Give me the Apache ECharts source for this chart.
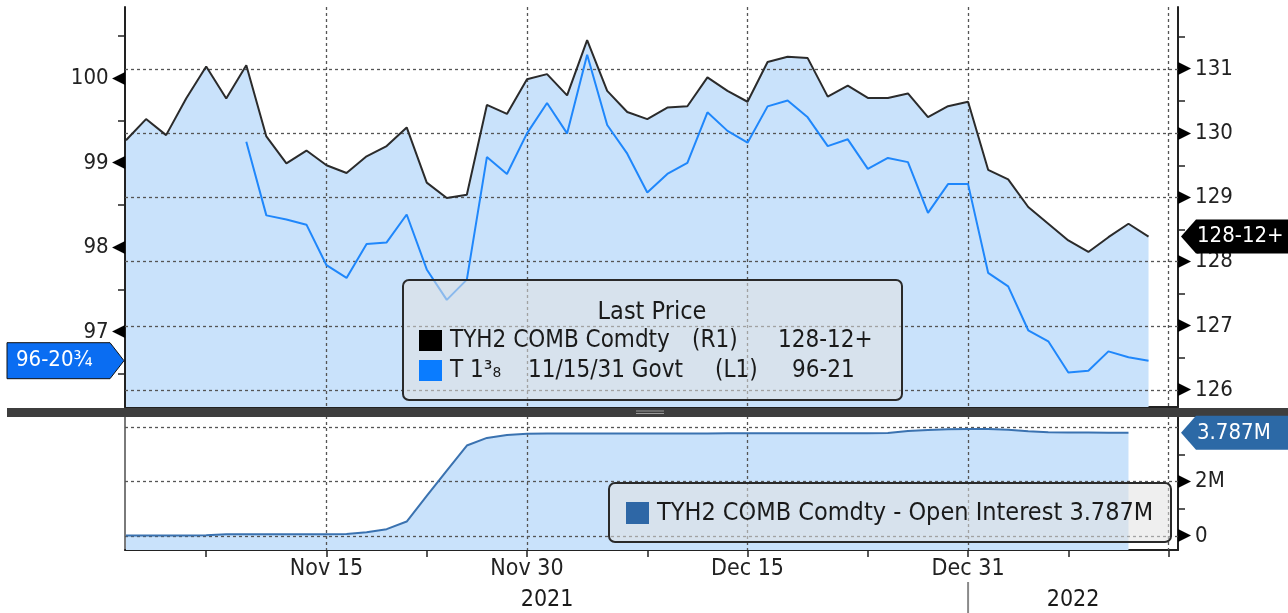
<!DOCTYPE html>
<html>
<head>
<meta charset="utf-8">
<title>TYH2 COMB Comdty vs T 1 3/8 11/15/31</title>
<script src="https://cdn.jsdelivr.net/npm/echarts@6/dist/echarts.min.js"></script>
<style>
  html, body { margin: 0; padding: 0; background: #fff; }
  #main { width: 1288px; height: 613px; }
</style>
</head>
<body>
<div id="main"></div>
<script>
// trading days shown on the time axis (index = position)
var days = ['Nov 1','Nov 2','Nov 3','Nov 4','Nov 5','Nov 8','Nov 9','Nov 10','Nov 11','Nov 12',
  'Nov 15','Nov 16','Nov 17','Nov 18','Nov 19','Nov 22','Nov 23','Nov 24','Nov 26','Nov 29','Nov 30',
  'Dec 1','Dec 2','Dec 3','Dec 6','Dec 7','Dec 8','Dec 9','Dec 10','Dec 13','Dec 14','Dec 15',
  'Dec 16','Dec 17','Dec 20','Dec 21','Dec 22','Dec 23','Dec 27','Dec 28','Dec 29','Dec 30','Dec 31',
  'Jan 3','Jan 4','Jan 5','Jan 6','Jan 7','Jan 10','Jan 11','Jan 12','Jan 13','Jan 14'];

var labelDays = ['Nov 15', 'Nov 30', 'Dec 15', 'Dec 31'];
var gridDays = ['Nov 15', 'Nov 30', 'Dec 15', 'Dec 31', 'Jan 14'];
var tickDays = ['Nov 5', 'Nov 15', 'Nov 22', 'Nov 30', 'Dec 8', 'Dec 15', 'Dec 23', 'Dec 31', 'Jan 7', 'Jan 14'];
var years = ['2021', '2022'];

// TYH2 COMB Comdty, last price (right axis)
var tyh2 = [129.89, 130.22, 129.97, 130.54, 131.04, 130.54, 131.06, 129.95, 129.53, 129.73,
  129.50, 129.38, 129.64, 129.80, 130.09, 129.23, 128.99, 129.04, 130.44, 130.30, 130.84,
  130.92, 130.59, 131.45, 130.66, 130.33, 130.22, 130.40, 130.42, 130.87, 130.66, 130.49,
  131.11, 131.19, 131.17, 130.57, 130.74, 130.55, 130.55, 130.62, 130.25, 130.42, 130.49,
  129.43, 129.28, 128.85, 128.59, 128.33, 128.15, 128.38, 128.59, 128.39];

// T 1 3/8 11/15/31 Govt, last price (left axis)
var t138 = [null, null, null, null, null, null, 99.25, 98.38, 98.33, 98.27,
  97.79, 97.64, 98.04, 98.06, 98.39, 97.74, 97.38, 97.62, 99.07, 98.87, 99.35,
  99.71, 99.35, 100.28, 99.45, 99.11, 98.65, 98.87, 99.00, 99.60, 99.38, 99.24,
  99.67, 99.74, 99.54, 99.20, 99.28, 98.93, 99.06, 99.01, 98.41, 98.75, 98.75,
  97.70, 97.54, 97.02, 96.89, 96.52, 96.54, 96.77, 96.70, 96.66];

// TYH2 open interest, millions
var openInt = [0.02, 0.02, 0.02, 0.02, 0.03, 0.06, 0.06, 0.06, 0.06, 0.06,
  0.06, 0.07, 0.14, 0.25, 0.53, 1.47, 2.40, 3.32, 3.60, 3.71, 3.75,
  3.76, 3.76, 3.76, 3.76, 3.76, 3.76, 3.76, 3.76, 3.76, 3.77, 3.77,
  3.77, 3.77, 3.77, 3.77, 3.77, 3.77, 3.78, 3.85, 3.89, 3.92, 3.93,
  3.93, 3.90, 3.84, 3.81, 3.80, 3.80, 3.79, 3.787];

var leftTicks = [97, 98, 99, 100];
var leftMinor = [96.5, 97.5, 98.5, 99.5, 100.5];
var rightTicks = [126, 127, 128, 129, 130, 131];
var rightMinor = [126.5, 127.5, 128.5, 129.5, 130.5, 131.5];
var oiTicks = [0, 2];
var oiMinor = [1, 3];
var oiGrid = [0, 2, 4];

var lastLabels = { tyh2: '128-12+', t138: '96-21', t138Tag: '96-20\u00be', oi: '3.787M' };

var FONT = "'DejaVu Sans Condensed', 'Liberation Sans Narrow', 'DejaVu Sans', sans-serif";
var FILL = '#c9e2fb';
var X_MIN = -0.05, X_MAX = 52.47;

function idx(list) { return list.map(function (d) { return days.indexOf(d); }); }
function pairs(arr) {
  return arr.map(function (v, i) { return [i, v]; }).filter(function (p) { return p[1] != null; });
}

var dec31 = days.indexOf('Dec 31');
var yearPos = [(0 + dec31) / 2, (dec31 + X_MAX) / 2];

var dash = { color: '#555', width: 1.3, type: [3, 3] };
var noAxis = { show: false };

function gridAxisX(g, values) {
  return { gridIndex: g, type: 'value', position: 'top', min: X_MIN, max: X_MAX, z: 3,
    axisLine: noAxis, axisLabel: noAxis, axisTick: { show: false, customValues: values },
    splitLine: { show: true, lineStyle: dash } };
}
function gridAxisY(g, min, max, values) {
  return { gridIndex: g, type: 'value', position: 'right', min: min, max: max, z: 3,
    axisLine: noAxis, axisLabel: noAxis, axisTick: { show: false, customValues: values },
    splitLine: { show: true, lineStyle: dash } };
}

var numRich = {
  v: { fontFamily: FONT, fontSize: 22, color: '#222' },
  t: { fontFamily: 'DejaVu Sans', fontSize: 17, color: '#000' },
  tr: { fontFamily: 'DejaVu Sans', fontSize: 17, color: '#000', padding: [0, 4, 0, 0] }
};

var chart = echarts.init(document.getElementById('main'));

var option = {
  animation: false,
  backgroundColor: '#fff',
  grid: [
    { left: 125, right: 110, top: 7, height: 400 },
    { left: 125, right: 110, top: 416, height: 134 }
  ],
  xAxis: [
    { gridIndex: 0, type: 'value', position: 'bottom', min: X_MIN, max: X_MAX,
      axisLine: { onZero: false, lineStyle: { color: '#222', width: 2 } },
      axisTick: noAxis, axisLabel: noAxis, splitLine: noAxis },
    gridAxisX(0, idx(gridDays)),
    { gridIndex: 1, type: 'value', position: 'bottom', min: X_MIN, max: X_MAX,
      axisLine: { onZero: false, lineStyle: { color: '#222', width: 2 } },
      axisTick: { customValues: idx(tickDays), length: 7, lineStyle: { color: '#222', width: 1.5 } },
      axisLabel: { customValues: idx(labelDays), margin: 8, fontFamily: FONT, fontSize: 23, color: '#222',
        formatter: function (v) { return days[Math.round(v)]; } },
      splitLine: noAxis },
    gridAxisX(1, idx(gridDays))
  ],
  yAxis: [
    { gridIndex: 0, type: 'value', position: 'left', min: 96.112, max: 100.846,
      axisLine: { show: true, onZero: false, lineStyle: { color: '#222', width: 2 } },
      axisTick: { show: true, customValues: leftMinor, length: 7, lineStyle: { color: '#222', width: 1.5 } },
      axisLabel: { customValues: leftTicks, margin: 0, rich: numRich,
        formatter: function (v) { return '{v|' + v + '} {t|\u25c0}'; } },
      splitLine: noAxis },
    { gridIndex: 0, type: 'value', position: 'right', min: 125.735, max: 131.966,
      axisLine: { show: true, onZero: false, lineStyle: { color: '#222', width: 2 } },
      axisTick: { show: true, customValues: rightMinor, length: 7, lineStyle: { color: '#222', width: 1.5 } },
      axisLabel: { customValues: rightTicks, margin: 0, rich: numRich,
        formatter: function (v) { return '{tr|\u25b6}{v|' + v + '}'; } },
      splitLine: noAxis },
    gridAxisY(0, 125.735, 131.966, rightTicks),
    { gridIndex: 1, type: 'value', position: 'left', min: -0.514, max: 4.404,
      axisLine: { show: true, onZero: false, lineStyle: { color: '#7a7a7a', width: 2 } },
      axisTick: noAxis, axisLabel: noAxis, splitLine: noAxis },
    { gridIndex: 1, type: 'value', position: 'right', min: -0.514, max: 4.404,
      axisLine: { show: true, onZero: false, lineStyle: { color: '#222', width: 2 } },
      axisTick: { show: true, customValues: oiMinor, length: 7, lineStyle: { color: '#222', width: 1.5 } },
      axisLabel: { customValues: oiTicks, margin: 0, rich: numRich,
        formatter: function (v) { return '{tr|\u25b6}{v|' + (v === 0 ? '0' : v + 'M') + '}'; } },
      splitLine: noAxis },
    gridAxisY(1, -0.514, 4.404, oiGrid)
  ],
  series: [
    { type: 'line', xAxisIndex: 0, yAxisIndex: 1, data: pairs(tyh2), showSymbol: false, silent: true,
      lineStyle: { width: 0 }, areaStyle: { color: FILL, opacity: 1, origin: 'start' }, z: 1 },
    { name: 'TYH2 COMB Comdty', type: 'line', xAxisIndex: 0, yAxisIndex: 1, data: pairs(tyh2),
      showSymbol: false, lineStyle: { color: '#2b2b2b', width: 2 }, z: 5 },
    { name: 'T 1 3/8 11/15/31 Govt', type: 'line', xAxisIndex: 0, yAxisIndex: 0, data: pairs(t138),
      showSymbol: false, lineStyle: { color: '#1f87fb', width: 2 }, z: 6 },
    { type: 'line', xAxisIndex: 2, yAxisIndex: 4, data: pairs(openInt), showSymbol: false, silent: true,
      lineStyle: { width: 0 }, areaStyle: { color: FILL, opacity: 1, origin: 'start' }, z: 1 },
    { name: 'Open Interest', type: 'line', xAxisIndex: 2, yAxisIndex: 4, data: pairs(openInt),
      showSymbol: false, lineStyle: { color: '#3a72b0', width: 2 }, z: 5 }
  ]
};
chart.setOption(option);

// positions through the axis scales
var yBlack = chart.convertToPixel({ xAxisIndex: 0, yAxisIndex: 1 }, [0, tyh2[tyh2.length - 1]])[1];
var yBlue = chart.convertToPixel({ xAxisIndex: 0, yAxisIndex: 0 }, [0, t138[t138.length - 1]])[1];
var yOi = chart.convertToPixel({ xAxisIndex: 2, yAxisIndex: 4 }, [0, openInt[openInt.length - 1]])[1];
var xYear = yearPos.map(function (p) { return chart.convertToPixel({ xAxisIndex: 2, yAxisIndex: 4 }, [p, 0])[0]; });
var xSplit = chart.convertToPixel({ xAxisIndex: 2, yAxisIndex: 4 }, [dec31, 0])[0];

function txt(s, x, y, opts) {
  opts = opts || {};
  return { type: 'text', z: 101, x: x, y: y, silent: true,
    style: { text: s, fill: opts.fill || '#1a1a1a', font: (opts.size || 24) + 'px ' + FONT,
      align: opts.align || 'left', verticalAlign: 'middle' } };
}
function rightTag(y, color, label) {
  return [
    { type: 'polygon', z: 100, shape: { points: [[1181, y], [1196, y - 17], [1290, y - 17], [1290, y + 17], [1196, y + 17]] },
      style: { fill: color } },
    txt(label, 1197, y, { fill: '#fff', size: 22 })
  ];
}
var legendBox = { fill: 'rgba(226,226,226,0.55)', stroke: '#2a2a2a', lineWidth: 2 };

var elements = [
  // panel separator
  { type: 'rect', z: 90, shape: { x: 7, y: 408, width: 1281, height: 9 }, style: { fill: '#3e3e3e' } },
  { type: 'line', z: 91, shape: { x1: 636, y1: 411, x2: 664, y2: 411 }, style: { stroke: '#9a9a9a', lineWidth: 1 } },
  { type: 'line', z: 91, shape: { x1: 636, y1: 413.5, x2: 664, y2: 413.5 }, style: { stroke: '#9a9a9a', lineWidth: 1 } },

  // years under the time axis
  txt(years[0], xYear[0], 600, { align: 'center', size: 23 }),
  txt(years[1], xYear[1], 600, { align: 'center', size: 23 }),
  { type: 'line', z: 91, shape: { x1: xSplit, y1: 582, x2: xSplit, y2: 613 }, style: { stroke: '#8a8a8a', lineWidth: 2 } },

  // price legend
  { type: 'rect', z: 100, shape: { x: 403, y: 280, width: 499, height: 120, r: 6 }, style: legendBox },
  txt('Last Price', 652, 312, { align: 'center', size: 25 }),
  { type: 'rect', z: 101, shape: { x: 419, y: 330, width: 23, height: 21 }, style: { fill: '#000' } },
  txt('TYH2 COMB Comdty', 450, 341),
  txt('(R1)', 692, 341),
  txt(lastLabels.tyh2, 778, 341),
  { type: 'rect', z: 101, shape: { x: 419, y: 360, width: 23, height: 21 }, style: { fill: '#0a7cff' } },
  txt('T 1\u00b3\u2088', 450, 371),
  txt('11/15/31 Govt', 528, 371),
  txt('(L1)', 715, 371),
  txt(lastLabels.t138, 792, 371),

  // open interest legend
  { type: 'rect', z: 100, shape: { x: 609, y: 483, width: 562, height: 59, r: 6 }, style: legendBox },
  { type: 'rect', z: 101, shape: { x: 626, y: 502, width: 23, height: 22 }, style: { fill: '#2e67a6' } },
  txt('TYH2 COMB Comdty - Open Interest ' + lastLabels.oi, 657, 513, { size: 25 }),

  // left tag
  { type: 'polygon', z: 100, shape: { points: [[7, yBlue - 18], [110, yBlue - 18], [124, yBlue], [110, yBlue + 18], [7, yBlue + 18]] },
    style: { fill: '#0a6df2', stroke: '#111', lineWidth: 1 } },
  txt(lastLabels.t138Tag, 16, yBlue, { fill: '#fff', size: 22 })
].concat(rightTag(yBlack, '#000', lastLabels.tyh2), rightTag(yOi, '#2c69a6', lastLabels.oi));

chart.setOption({ graphic: { elements: elements } });
</script>
</body>
</html>
